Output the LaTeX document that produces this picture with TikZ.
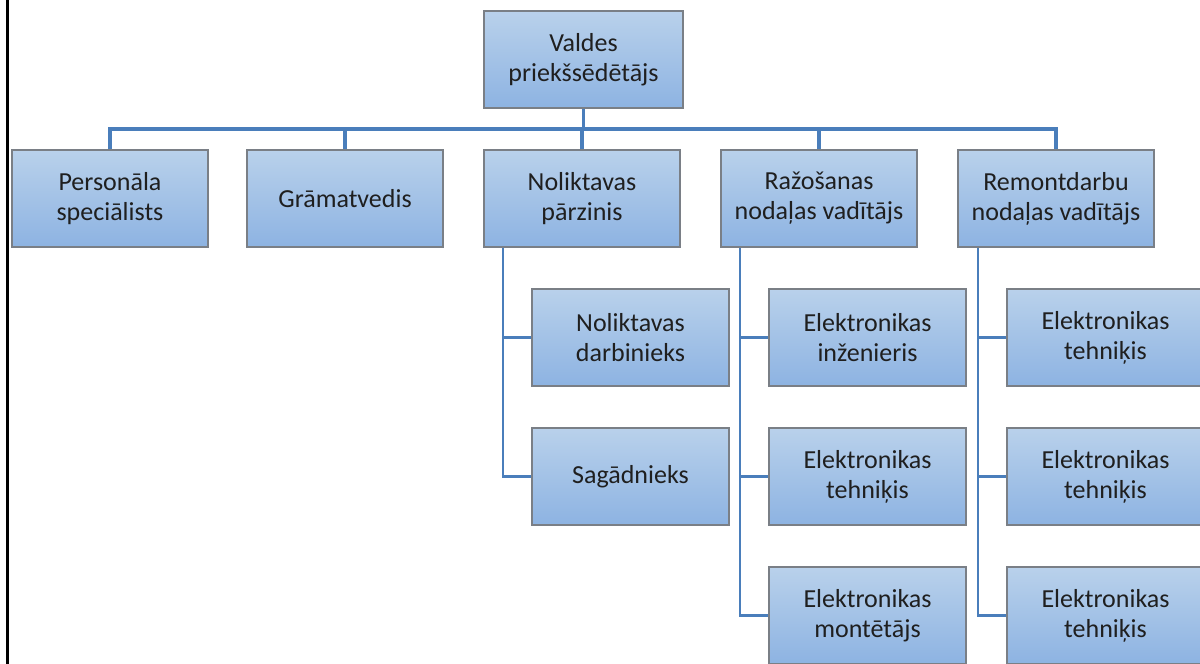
\documentclass[tikz,border=0pt]{standalone}
\usepackage{fontspec}
\setmainfont{Carlito}
\begin{document}
\begin{tikzpicture}[x=1pt,y=-1pt,
  box/.style={draw=boxedge, line width=1.4pt, top color=boxtop, bottom color=boxbot,
    minimum width=196pt, minimum height=97pt, inner sep=0pt, align=center,
    font=\fontsize{26}{30}\selectfont, text=black!88},
  bus/.style={draw=conn, line width=3.6pt},
  link/.style={draw=conn, line width=2.4pt}]
\definecolor{boxtop}{HTML}{B9D1EB}
\definecolor{boxbot}{HTML}{8DB3E2}
\definecolor{boxedge}{HTML}{7A7F86}
\definecolor{conn}{HTML}{4A7EBB}
\useasboundingbox (0,0) rectangle (1200,664);
\begin{scope}
\clip (0,0) rectangle (1200,664);
% top
\node[box, minimum width=199pt] (top) at (583.5,59.5) {Valdes\\priekšsēdētājs};
% level 2
\node[box] (ps) at (110,198.5) {Personāla\\speciālists};
\node[box] (gr) at (345,198.5) {Grāmatvedis};
\node[box] (np) at (582,198.5) {Noliktavas\\pārzinis};
\node[box] (rz) at (819,198.5) {Ražošanas\\nodaļas vadītājs};
\node[box] (rd) at (1056,198.5) {Remontdarbu\\nodaļas vadītājs};
% level 3
\node[box, minimum width=197pt] (nd) at (630.5,337.5) {Noliktavas\\darbinieks};
\node[box, minimum width=197pt] (sg) at (630.5,476.5) {Sagādnieks};
\node[box, minimum width=197pt] (e1) at (867.5,337.5) {Elektronikas\\inženieris};
\node[box, minimum width=197pt] (e2) at (867.5,476.5) {Elektronikas\\tehniķis};
\node[box, minimum width=197pt] (e3) at (867.5,615.5) {Elektronikas\\montētājs};
\node[box, minimum width=197pt] (t1) at (1105.5,337.5) {Elektronikas\\tehniķis};
\node[box, minimum width=197pt] (t2) at (1105.5,476.5) {Elektronikas\\tehniķis};
\node[box, minimum width=197pt] (t3) at (1105.5,615.5) {Elektronikas\\tehniķis};
% bus
\coordinate (busL) at (110,129);
\coordinate (busR) at (1056,129);
\draw[bus] (top.south) -- (top.south |- busL);
\draw[bus] (ps.north) |- (busL) -- (busR) -| (rd.north);
\draw[bus] (gr.north) -- (gr.north |- busL);
\draw[bus] (np.north) -- (np.north |- busL);
\draw[bus] (rz.north) -- (rz.north |- busL);
% children
\coordinate (npv) at (503,247.5);
\coordinate (rzv) at (740,247.5);
\coordinate (rdv) at (978,247.5);
\draw[link] (npv) |- (sg.west);
\draw[link] (npv |- nd.west) -- (nd.west);
\draw[link] (rzv) |- (e3.west);
\draw[link] (rzv |- e1.west) -- (e1.west);
\draw[link] (rzv |- e2.west) -- (e2.west);
\draw[link] (rdv) |- (t3.west);
\draw[link] (rdv |- t1.west) -- (t1.west);
\draw[link] (rdv |- t2.west) -- (t2.west);
\end{scope}
% left frame line
\draw[line width=3pt, black] (7,0) -- (7,664);
\end{tikzpicture}
\end{document}
